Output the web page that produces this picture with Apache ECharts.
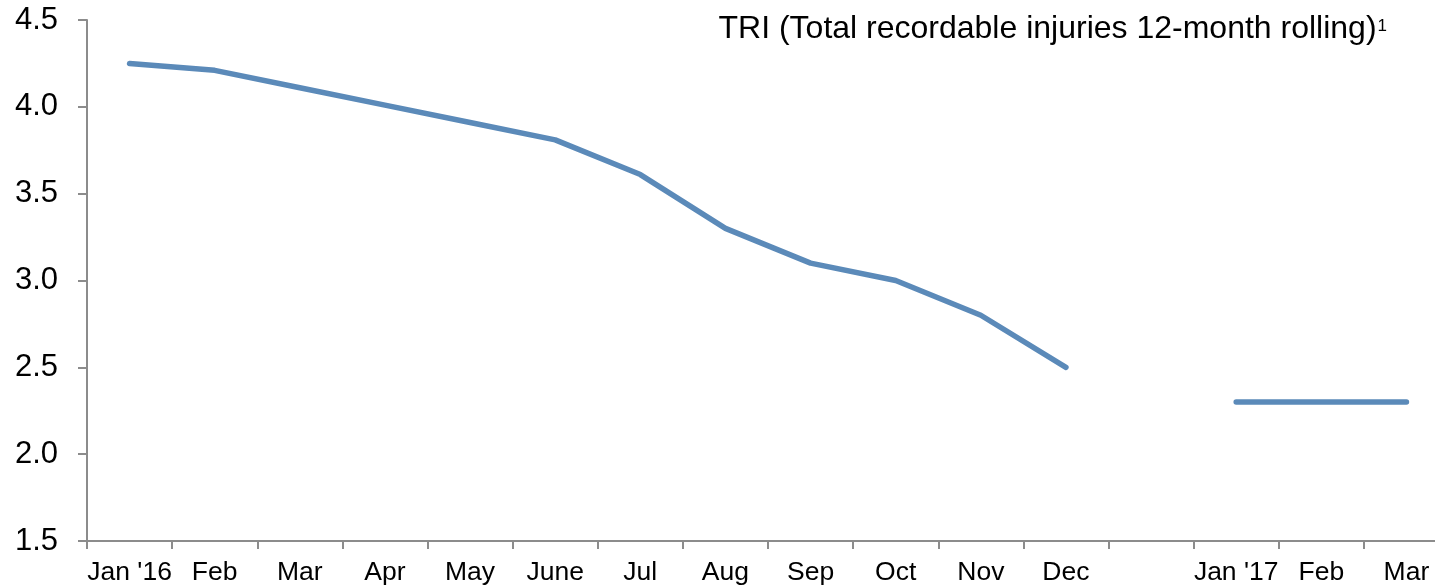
<!DOCTYPE html>
<html>
<head>
<meta charset="utf-8">
<script src="https://cdn.jsdelivr.net/npm/echarts@6/dist/echarts.min.js"></script>
<style>
  html, body { margin: 0; padding: 0; background: #fff; }
  #chart { width: 1435px; height: 587px; }
</style>
</head>
<body>
<div id="chart"></div>
<script>
// 数据
var months = ["Jan '16", 'Feb', 'Mar', 'Apr', 'May', 'June', 'Jul', 'Aug', 'Sep', 'Oct', 'Nov', 'Dec', '', "Jan '17", 'Feb', 'Mar'];
var triValues = [4.25, 4.21, 4.11, 4.01, 3.91, 3.81, 3.61, 3.3, 3.1, 3.0, 2.8, 2.5, null, 2.3, 2.3, 2.3];
var titleText = 'TRI (Total recordable injuries 12-month rolling)';
var footnote = '1';

var axisGray = '#8c8c8c';
var font = 'Liberation Sans, Arial, sans-serif';

var option = {
  animation: false,
  title: {
    right: 43,
    top: 6,
    text: '{a|' + titleText + '}{s|' + footnote + '}',
    textStyle: {
      fontWeight: 'normal',
      rich: {
        a: { fontFamily: font, fontSize: 32, fontWeight: 'normal', color: '#000', lineHeight: 36 },
        s: { fontFamily: font, fontSize: 17, fontWeight: 'normal', color: '#000', lineHeight: 20, verticalAlign: 'top', padding: [7, 0, 0, 1] }
      }
    }
  },
  grid: { left: 87, right: -14, top: 20, bottom: 46, outerBoundsMode: 'none', containLabel: false },
  xAxis: {
    type: 'category',
    data: months,
    boundaryGap: true,
    axisLine: { lineStyle: { color: axisGray, width: 2 } },
    axisTick: { show: true, interval: 0, length: 8, lineStyle: { color: axisGray, width: 2 } },
    axisLabel: { interval: 0, margin: 18, color: '#000', fontFamily: font, fontSize: 26.5 }
  },
  yAxis: {
    type: 'value',
    min: 1.5,
    max: 4.5,
    interval: 0.5,
    splitLine: { show: false },
    axisLine: { show: true, lineStyle: { color: axisGray, width: 2 } },
    axisTick: { show: true, length: 9, lineStyle: { color: axisGray, width: 2 } },
    axisLabel: {
      margin: 29, color: '#000', fontFamily: font, fontSize: 31,
      formatter: function (v) { return v.toFixed(1); }
    }
  },
  series: [
    {
      name: 'TRI',
      type: 'line',
      data: triValues,
      showSymbol: false,
      symbol: 'none',
      connectNulls: false,
      lineStyle: { color: '#5b8ab9', width: 5.5, cap: 'round', join: 'round' }
    }
  ]
};

var myChart = echarts.init(document.getElementById('chart'));
myChart.setOption(option);
window.onresize = function () {
  myChart.resize();
};
</script>
</body>
</html>
